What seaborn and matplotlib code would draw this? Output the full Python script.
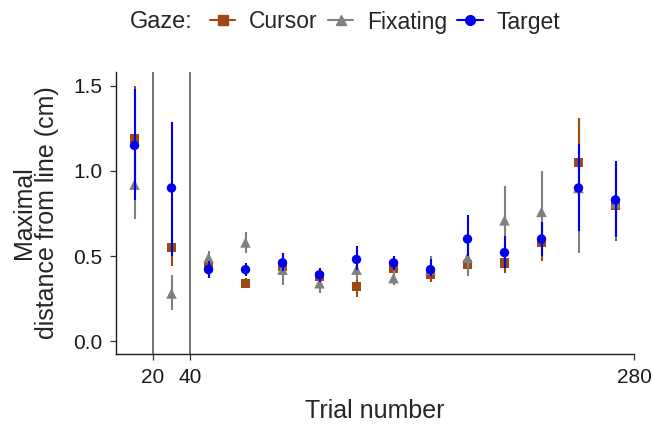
import numpy as np
import pandas as pd
import matplotlib
matplotlib.use("Agg")
import matplotlib.pyplot as plt
from matplotlib.lines import Line2D
import seaborn as sns

trials = [10, 30, 50, 70, 90, 110, 130, 150, 170, 190, 210, 230, 250, 270]

cursor = [1.19, 0.55, 0.44, 0.34, 0.44, 0.38, 0.32, 0.43, 0.39, 0.45, 0.46, 0.58, 1.05, 0.80]
cursor_lo = [0.88, 0.44, 0.37, 0.31, 0.40, 0.33, 0.26, 0.39, 0.35, 0.41, 0.40, 0.47, 0.79, 0.59]
cursor_hi = [1.50, 0.65, 0.49, 0.37, 0.48, 0.43, 0.38, 0.47, 0.43, 0.50, 0.52, 0.70, 1.31, 1.04]

fixating = [0.92, 0.28, 0.49, 0.58, 0.42, 0.34, 0.42, 0.37, 0.42, 0.49, 0.71, 0.76, 0.90, 0.81]
fixating_lo = [0.72, 0.18, 0.44, 0.52, 0.33, 0.28, 0.36, 0.33, 0.38, 0.38, 0.52, 0.55, 0.52, 0.60]
fixating_hi = [1.12, 0.39, 0.53, 0.64, 0.50, 0.40, 0.48, 0.42, 0.50, 0.58, 0.91, 1.00, 1.15, 1.02]

target = [1.15, 0.90, 0.42, 0.42, 0.46, 0.39, 0.48, 0.46, 0.42, 0.60, 0.52, 0.60, 0.90, 0.83]
target_lo = [0.83, 0.50, 0.37, 0.38, 0.41, 0.35, 0.42, 0.42, 0.38, 0.50, 0.43, 0.50, 0.65, 0.61]
target_hi = [1.48, 1.29, 0.47, 0.46, 0.52, 0.43, 0.56, 0.50, 0.48, 0.74, 0.62, 0.70, 1.16, 1.06]

series_names = ["Cursor", "Fixating", "Target"]
x_ticks = [20, 40, 280]
y_ticks = [0.0, 0.5, 1.0, 1.5]
vlines_at = [20, 40]

colors = {"Cursor": "#9C4A12", "Fixating": "#808080", "Target": "#0000EE"}
markers = {"Cursor": "s", "Fixating": "^", "Target": "o"}

frames = []
for name, m, lo, hi in [("Cursor", cursor, cursor_lo, cursor_hi),
                        ("Fixating", fixating, fixating_lo, fixating_hi),
                        ("Target", target, target_lo, target_hi)]:
    frames.append(pd.DataFrame({"trial": trials, "dist": m, "lo": lo, "hi": hi, "Gaze": name}))
df = pd.concat(frames, ignore_index=True)

sns.set_style("ticks")
plt.rcParams["font.family"] = ["Liberation Sans", "DejaVu Sans"]

fig = plt.figure(figsize=(6.54, 4.24), dpi=100)
ax = fig.add_axes([116/654, 70/424, (634-116)/654, (354-72)/424])

for xv in vlines_at:
    ax.axvline(xv, color="#4d4d4d", lw=1.1, zorder=1)

for i, name in enumerate(series_names):
    sub = df[df["Gaze"] == name]
    ax.vlines(sub["trial"], sub["lo"], sub["hi"], color=colors[name], lw=1.5, zorder=2 + 2*i)
    sns.scatterplot(data=sub, x="trial", y="dist", color=colors[name], marker=markers[name],
                    s=46 if name != "Fixating" else 58, edgecolor="none", ax=ax, zorder=3 + 2*i,
                    legend=False)

ax.set_xlim(0, 280)
ax.set_ylim(-0.076, 1.582)
ax.set_xticks(x_ticks)
ax.set_yticks(y_ticks)
ax.set_yticklabels([f"{v:.1f}" for v in y_ticks])
ax.tick_params(labelsize=15, length=4, width=0.9, color="#333333", labelcolor="#1a1a1a")
ax.tick_params(axis="y", pad=6)
ax.tick_params(axis="x", pad=6)
for s in ["top", "right"]:
    ax.spines[s].set_visible(False)
for s in ["left", "bottom"]:
    ax.spines[s].set_linewidth(1.0)
    ax.spines[s].set_color("#1a1a1a")

ax.set_xlabel("Trial number", fontsize=18, labelpad=9)
ax.set_ylabel("Maximal\ndistance from line (cm)", fontsize=18, labelpad=10, linespacing=0.95)

fig.text(130/654, 1 - 22/424, "Gaze:", fontsize=17, va="center", ha="left")
handles = [Line2D([0], [0], color=colors[n], marker=markers[n], markersize=7, lw=1.5)
           for n in series_names]
fig.legend(handles, series_names, loc="center left", bbox_to_anchor=(210/654, 1 - 22/424),
           ncol=3, frameon=False, fontsize=16.5, handlelength=1.1, handletextpad=0.6,
           columnspacing=0.45, borderaxespad=0, borderpad=0)

fig.savefig("out.png", dpi=100)
